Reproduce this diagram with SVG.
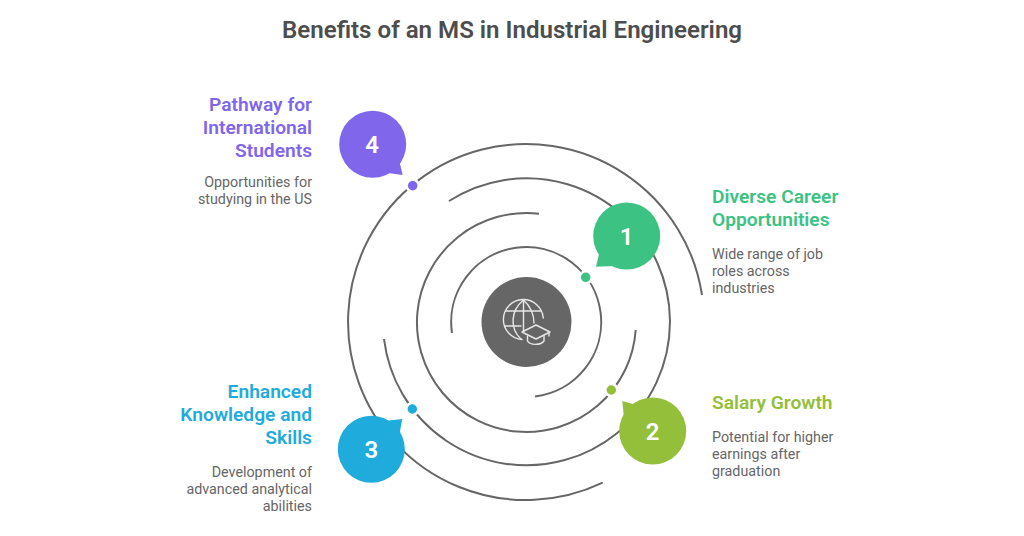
<svg xmlns="http://www.w3.org/2000/svg" width="1024" height="536" viewBox="0 0 1024 536">
<style>
text{font-family:Roboto,"Liberation Sans",sans-serif}
.t{font-size:24.1px;font-weight:600;fill:#4d4d4d}
.h{font-size:19.2px;font-weight:600}
.b{font-size:14.3px;fill:#666}
.e{text-anchor:end}
.n{font-size:24px;font-weight:600;fill:#fff;text-anchor:middle}
.r{fill:none;stroke:#666;stroke-width:2}
.d{stroke:#fff;stroke-width:2.5}
.i{fill:none;stroke:#e8e8e8;stroke-width:1.4;stroke-linecap:round;stroke-linejoin:round}
</style>
<rect width="1024" height="536" fill="#fff"/>
<text class="t" x="512" y="38" text-anchor="middle">Benefits of an MS in Industrial Engineering</text>
<g id="connectors">
<path class="r" d="M452 333A75 75 0 1 1 535 396.5"/>
<path class="r" d="M539 213.7A109.5 109.5 0 1 0 635.7 330"/>
<path class="r" d="M384 339A143.5 143.5 0 1 0 449 201"/>
<path class="r" d="M702 295A178 178 0 1 0 602.7 482.7"/>
</g>
<g id="center">
<circle cx="526.500" cy="322" r="45" fill="#666"/>
<g class="i">
<path d="M522 339.500A20 20 0 1 1 543.300 318"/>
<path d="M523.500 300C510 311 510 329 521 339"/>
<path d="M523.500 300C530 306 534 314 534 323"/>
<line x1="523.500" y1="300" x2="523.500" y2="331"/>
<line x1="506" y1="311" x2="541" y2="311"/>
<line x1="505" y1="326" x2="521" y2="326"/>
<path d="M522 332L536 325L550 332L536 339Z"/>
<path d="M527.500 336V341C530 345.500 541 345.500 544 341V336"/>
<line x1="549" y1="332" x2="549" y2="336"/>
</g>
</g>
<g id="node1">
<circle cx="626.700" cy="236" r="33.500" fill="#3cc283"/>
<path d="M596 266.700L600 250L615 266Z" fill="#3cc283"/>
<circle class="d" cx="585.700" cy="277.300" r="6" fill="#3cc283"/>
<text class="n" x="626.700" y="244.500">1</text>
<text class="h" fill="#3cc283" x="712" y="202.500">Diverse Career</text>
<text class="h" fill="#3cc283" x="712" y="225.500">Opportunities</text>
<text class="b" x="712" y="259">Wide range of job</text>
<text class="b" x="712" y="276">roles across</text>
<text class="b" x="712" y="293">industries</text>
</g>
<g id="node2">
<circle cx="652.700" cy="431" r="33.500" fill="#94bf3a"/>
<path d="M622.300 401L640 406L624 418Z" fill="#94bf3a"/>
<circle class="d" cx="611.300" cy="390" r="6" fill="#94bf3a"/>
<text class="n" x="652.700" y="439.500">2</text>
<text class="h" fill="#94bf3a" x="712" y="409">Salary Growth</text>
<text class="b" x="712" y="442">Potential for higher</text>
<text class="b" x="712" y="459">earnings after</text>
<text class="b" x="712" y="476">graduation</text>
</g>
<g id="node3">
<circle cx="371.300" cy="449.300" r="33.500" fill="#1fabdc"/>
<path d="M402.300 419L399 436L385 421Z" fill="#1fabdc"/>
<circle class="d" cx="412.300" cy="409" r="6" fill="#1fabdc"/>
<text class="n" x="371.300" y="458">3</text>
<text class="h e" fill="#1fabdc" x="312" y="397.500">Enhanced</text>
<text class="h e" fill="#1fabdc" x="312" y="420.500">Knowledge and</text>
<text class="h e" fill="#1fabdc" x="312" y="443.500">Skills</text>
<text class="b e" x="312" y="477">Development of</text>
<text class="b e" x="312" y="494">advanced analytical</text>
<text class="b e" x="312" y="511">abilities</text>
</g>
<g id="node4">
<circle cx="372.700" cy="144.300" r="33.500" fill="#7f66ea"/>
<path d="M402.700 175L399 160L388 173Z" fill="#7f66ea"/>
<circle class="d" cx="412.700" cy="185.700" r="6" fill="#7f66ea"/>
<text class="n" x="372" y="153">4</text>
<text class="h e" fill="#7f66ea" x="312" y="110.500">Pathway for</text>
<text class="h e" fill="#7f66ea" x="312" y="133.500">International</text>
<text class="h e" fill="#7f66ea" x="312" y="156.500">Students</text>
<text class="b e" x="312" y="187">Opportunities for</text>
<text class="b e" x="312" y="204">studying in the US</text>
</g>
</svg>
